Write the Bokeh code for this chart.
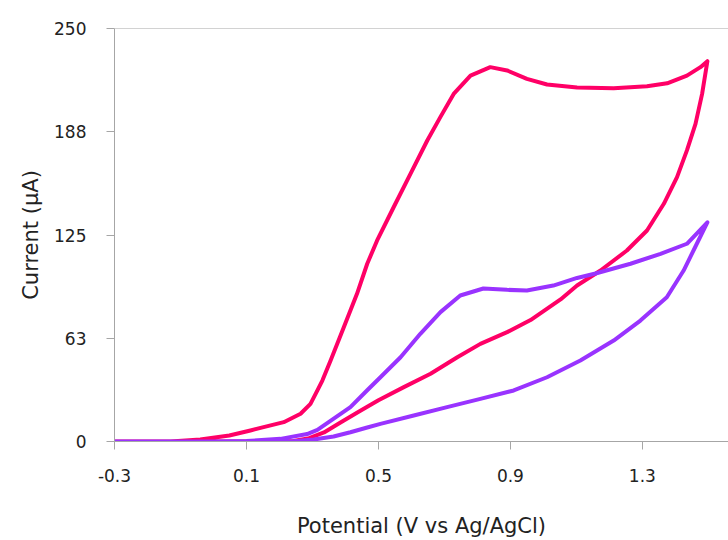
from bokeh.plotting import figure
from bokeh.models import FixedTicker, Span, Range1d
from bokeh.embed import file_html
from bokeh.resources import INLINE

# Red curve (loop): forward branch then return branch
red_v = [-0.30, -0.13, -0.04, 0.048, 0.112, 0.213, 0.264, 0.294, 0.315, 0.33, 0.355, 0.395,
         0.435, 0.466, 0.496, 0.546, 0.597, 0.648, 0.688, 0.728, 0.779, 0.839, 0.89, 0.95,
         1.011, 1.102, 1.213, 1.314, 1.375, 1.435, 1.476, 1.497,
         1.481, 1.461, 1.435, 1.405, 1.365, 1.314, 1.253, 1.173, 1.102, 1.052, 0.961, 0.89,
         0.809, 0.739, 0.658, 0.577, 0.50, 0.44, 0.385, 0.335, 0.29, 0.243, 0.15, -0.04, -0.30]
red_i = [0.0, 0.0, 1.2, 3.6, 6.7, 11.7, 16.8, 22.8, 30.9, 36.9, 49.0, 69.2,
         89.4, 107.6, 121.7, 141.8, 162.0, 182.2, 196.5, 210.4, 221.5, 226.6, 224.6, 219.5,
         216.1, 214.3, 213.9, 215.0, 216.8, 221.5, 226.6, 230.2,
         210.4, 192.3, 176.2, 160.0, 143.9, 127.7, 115.6, 103.5, 94.4, 86.0, 73.5, 66.2,
         59.1, 51.0, 41.0, 32.9, 25.0, 18.0, 11.5, 5.5, 2.0, 0.3, 0.0, 0.0, 0.0]

# Purple curve (loop)
pur_v = [-0.30, 0.0, 0.10, 0.203, 0.284, 0.315, 0.415, 0.466, 0.506, 0.567, 0.627, 0.688,
         0.748, 0.818, 0.89, 0.95, 1.03, 1.102, 1.158, 1.264, 1.355, 1.435, 1.497,
         1.465, 1.425, 1.374, 1.294, 1.213, 1.112, 1.011, 0.91, 0.809, 0.708, 0.607, 0.506,
         0.466, 0.415, 0.364, 0.304, 0.233, 0.0, -0.30]
pur_i = [0.0, 0.0, 0.3, 1.6, 4.5, 7.0, 20.8, 31.0, 38.9, 51.0, 65.2, 78.3,
         88.4, 92.6, 91.8, 91.4, 94.4, 99.0, 101.7, 107.6, 113.6, 119.7, 132.7,
         119.7, 103.5, 87.3, 73.2, 61.1, 49.0, 38.9, 30.9, 25.8, 20.8, 15.7, 10.7,
         8.5, 5.6, 3.0, 1.2, 0.0, 0.0, 0.0]

x_ticks = [-0.3, 0.1, 0.5, 0.9, 1.3]
x_tick_labels = ["-0.3", "0.1", "0.5", "0.9", "1.3"]
y_ticks = [0, 62.5, 125, 187.5, 250]
y_tick_labels = ["0", "63", "125", "188", "250"]

FONT = "DejaVu Sans"

p = figure(width=728, height=540, output_backend="svg", toolbar_location=None,
           x_range=Range1d(-0.3, 1.561), y_range=Range1d(0, 250),
           min_border_left=114, min_border_right=0, min_border_top=28, min_border_bottom=99)
p.outline_line_color = None
p.xgrid.visible = False
p.ygrid.visible = False

p.line(red_v, red_i, line_color="#FF0066", line_width=4, line_join="round", line_cap="round")
p.line(pur_v, pur_i, line_color="#9933FF", line_width=4, line_join="round", line_cap="round")

p.add_layout(Span(location=250, dimension="width", line_color="#A6A6A6", line_width=1))

for ax in (p.xaxis[0], p.yaxis[0]):
    ax.axis_line_color = "#A6A6A6"
    ax.major_tick_line_color = "#A6A6A6"
    ax.major_tick_out = 8
    ax.major_tick_in = 0
    ax.minor_tick_line_color = None
    ax.major_label_text_font = FONT
    ax.major_label_text_font_size = "17px"
    ax.major_label_text_color = "#222222"
    ax.major_label_text_font_style = "normal"
    ax.axis_label_text_font = FONT
    ax.axis_label_text_font_size = "21px"
    ax.axis_label_text_font_style = "normal"
    ax.axis_label_text_color = "#222222"

p.xaxis.ticker = FixedTicker(ticks=x_ticks)
p.xaxis.major_label_overrides = {t: l for t, l in zip(x_ticks, x_tick_labels)}
p.xaxis.major_label_standoff = 19
p.xaxis.axis_label = "Potential (V vs Ag/AgCl)"
p.xaxis.axis_label_standoff = 29

p.yaxis.ticker = FixedTicker(ticks=y_ticks)
p.yaxis.major_label_overrides = {t: l for t, l in zip(y_ticks, y_tick_labels)}
p.yaxis.major_label_standoff = 20
p.yaxis.axis_label = "Current (µA)"
p.yaxis.axis_label_standoff = 8

open("out.html", "w").write(file_html(p, INLINE))
